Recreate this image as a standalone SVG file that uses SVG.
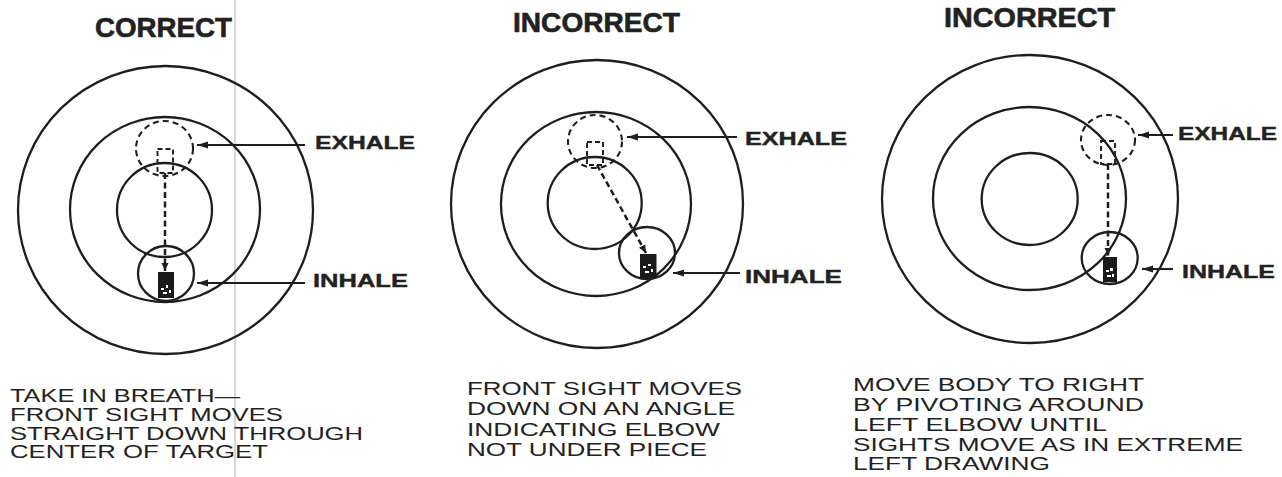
<svg xmlns="http://www.w3.org/2000/svg" width="1282" height="477" viewBox="0 0 1282 477">
<style>
.ring{fill:none;stroke:#1e1e1e;stroke-width:2.3}
.dring{fill:none;stroke:#1e1e1e;stroke-width:2.1;stroke-dasharray:6 4}
.dsq{fill:none;stroke:#1e1e1e;stroke-width:1.9;stroke-dasharray:5 3}
.dline{fill:none;stroke:#1e1e1e;stroke-width:2.5;stroke-dasharray:6 3.5}
.lead{fill:none;stroke:#1e1e1e;stroke-width:2.1}
.sight{fill:#1a1a1a}
.speck{fill:#fff}
.title{font-family:"Liberation Sans",Arial,sans-serif;font-weight:bold;font-size:27px;fill:#222;stroke:#222;stroke-width:0.6}
.lbl{font-family:"Liberation Sans",Arial,sans-serif;font-weight:bold;font-size:18.5px;fill:#222;stroke:#222;stroke-width:0.4}
.note{font-family:"Liberation Sans",Arial,sans-serif;font-size:19px;fill:#222}
</style>
<defs>
<marker id="ah" markerWidth="11" markerHeight="8" refX="11" refY="4" orient="auto-start-reverse" markerUnits="userSpaceOnUse">
<path d="M0,0.5 L11,4 L0,7.5 Z" fill="#1e1e1e"/>
</marker>
<marker id="dh" markerWidth="8" markerHeight="8" refX="8" refY="4" orient="auto" markerUnits="userSpaceOnUse">
<path d="M0,0.5 L8,4 L0,7.5 Z" fill="#1e1e1e"/>
</marker>
</defs>
<rect width="1282" height="477" fill="#fff"/>
<line x1="235" y1="0" x2="235" y2="477" stroke="#bdbdbd" stroke-width="1.2"/>

<g id="panel-correct">
<text class="title" x="95" y="37" textLength="137" lengthAdjust="spacingAndGlyphs">CORRECT</text>
<ellipse class="ring" cx="165.5" cy="210" rx="147.5" ry="144"/>
<ellipse class="ring" cx="165" cy="209.5" rx="95" ry="92.5"/>
<ellipse class="ring" cx="164.5" cy="210" rx="47.5" ry="47"/>
<ellipse class="dring" cx="164.5" cy="148.5" rx="28.5" ry="27.5"/>
<ellipse class="ring" cx="166" cy="273.5" rx="28" ry="27.5"/>
<rect class="dsq" x="157.5" y="149" width="15.5" height="24"/>
<rect class="sight" x="158" y="272" width="16" height="26"/>
<path class="speck" d="M161,288 h3 v2 h-3 z M166,285 h2 v3 h-2 z M163,292 h4 v2 h-4 z M169,290 h2 v3 h-2 z"/>
<text class="lbl" x="315" y="148.5" textLength="100" lengthAdjust="spacingAndGlyphs">EXHALE</text>
<text class="lbl" x="313" y="287" textLength="95" lengthAdjust="spacingAndGlyphs">INHALE</text>
<text class="note" x="10" y="402" textLength="230" lengthAdjust="spacingAndGlyphs">TAKE IN BREATH—</text>
<text class="note" x="10" y="421" textLength="273" lengthAdjust="spacingAndGlyphs">FRONT SIGHT MOVES</text>
<text class="note" x="10" y="439.5" textLength="353" lengthAdjust="spacingAndGlyphs">STRAIGHT DOWN THROUGH</text>
<text class="note" x="10" y="458" textLength="258" lengthAdjust="spacingAndGlyphs">CENTER OF TARGET</text>
</g>

<g id="panel-incorrect-angle">
<text class="title" x="513" y="32" textLength="167" lengthAdjust="spacingAndGlyphs">INCORRECT</text>
<ellipse class="ring" cx="597" cy="204" rx="146" ry="144"/>
<ellipse class="ring" cx="596" cy="204" rx="95" ry="92"/>
<ellipse class="ring" cx="594.7" cy="203" rx="47" ry="46"/>
<ellipse class="dring" cx="595" cy="141.5" rx="27" ry="26.5"/>
<ellipse class="ring" cx="647" cy="253" rx="28" ry="26"/>
<rect class="dsq" x="587" y="142" width="16" height="23"/>
<rect class="sight" x="640" y="254" width="16.5" height="24"/>
<path class="speck" d="M643,266 h3 v2 h-3 z M648,264 h3 v2 h-3 z M645,271 h4 v2 h-4 z M651,269 h2 v3 h-2 z"/>
<text class="lbl" x="745" y="145" textLength="102" lengthAdjust="spacingAndGlyphs">EXHALE</text>
<text class="lbl" x="745" y="283" textLength="97" lengthAdjust="spacingAndGlyphs">INHALE</text>
<text class="note" x="467" y="395" textLength="275" lengthAdjust="spacingAndGlyphs">FRONT SIGHT MOVES</text>
<text class="note" x="467" y="415" textLength="268" lengthAdjust="spacingAndGlyphs">DOWN ON AN ANGLE</text>
<text class="note" x="467" y="436" textLength="253" lengthAdjust="spacingAndGlyphs">INDICATING ELBOW</text>
<text class="note" x="467" y="456" textLength="240" lengthAdjust="spacingAndGlyphs">NOT UNDER PIECE</text>
</g>

<g id="panel-incorrect-pivot">
<text class="title" x="944" y="27" textLength="171" lengthAdjust="spacingAndGlyphs">INCORRECT</text>
<ellipse class="ring" cx="1030" cy="199" rx="148" ry="144"/>
<ellipse class="ring" cx="1029.5" cy="198.5" rx="96.5" ry="91.5"/>
<ellipse class="ring" cx="1029.7" cy="199" rx="48" ry="46"/>
<ellipse class="dring" cx="1108" cy="140" rx="27" ry="25"/>
<ellipse class="ring" cx="1109.7" cy="258" rx="28" ry="26"/>
<rect class="dsq" x="1101" y="141" width="14" height="23"/>
<rect class="sight" x="1103" y="257" width="14" height="25"/>
<path class="speck" d="M1106,270 h3 v2 h-3 z M1110,268 h3 v3 h-3 z M1107,275 h4 v2 h-4 z M1112,274 h2 v3 h-2 z"/>
<text class="lbl" x="1178" y="140" textLength="99" lengthAdjust="spacingAndGlyphs">EXHALE</text>
<text class="lbl" x="1182" y="278" textLength="93" lengthAdjust="spacingAndGlyphs">INHALE</text>
<text class="note" x="853" y="391" textLength="291" lengthAdjust="spacingAndGlyphs">MOVE BODY TO RIGHT</text>
<text class="note" x="853" y="410.5" textLength="291" lengthAdjust="spacingAndGlyphs">BY PIVOTING AROUND</text>
<text class="note" x="853" y="430.5" textLength="254" lengthAdjust="spacingAndGlyphs">LEFT ELBOW UNTIL</text>
<text class="note" x="853" y="451" textLength="390" lengthAdjust="spacingAndGlyphs">SIGHTS MOVE AS IN EXTREME</text>
<text class="note" x="853" y="470" textLength="197" lengthAdjust="spacingAndGlyphs">LEFT DRAWING</text>
</g>

<g id="connectors">
<line class="lead" x1="197" y1="145" x2="305" y2="145" marker-start="url(#ah)"/>
<line class="lead" x1="197" y1="283" x2="305" y2="283" marker-start="url(#ah)"/>
<line class="dline" x1="165" y1="173" x2="165" y2="271" marker-end="url(#dh)"/>
<line class="lead" x1="627" y1="137" x2="737" y2="137" marker-start="url(#ah)"/>
<line class="lead" x1="673" y1="273" x2="740" y2="273" marker-start="url(#ah)"/>
<line class="dline" x1="597" y1="165" x2="646" y2="253" marker-end="url(#dh)"/>
<line class="lead" x1="1138" y1="135" x2="1173" y2="135" marker-start="url(#ah)"/>
<line class="lead" x1="1142" y1="269" x2="1173" y2="269" marker-start="url(#ah)"/>
<line class="dline" x1="1108" y1="164" x2="1108" y2="256" marker-end="url(#dh)"/>
</g>
</svg>
